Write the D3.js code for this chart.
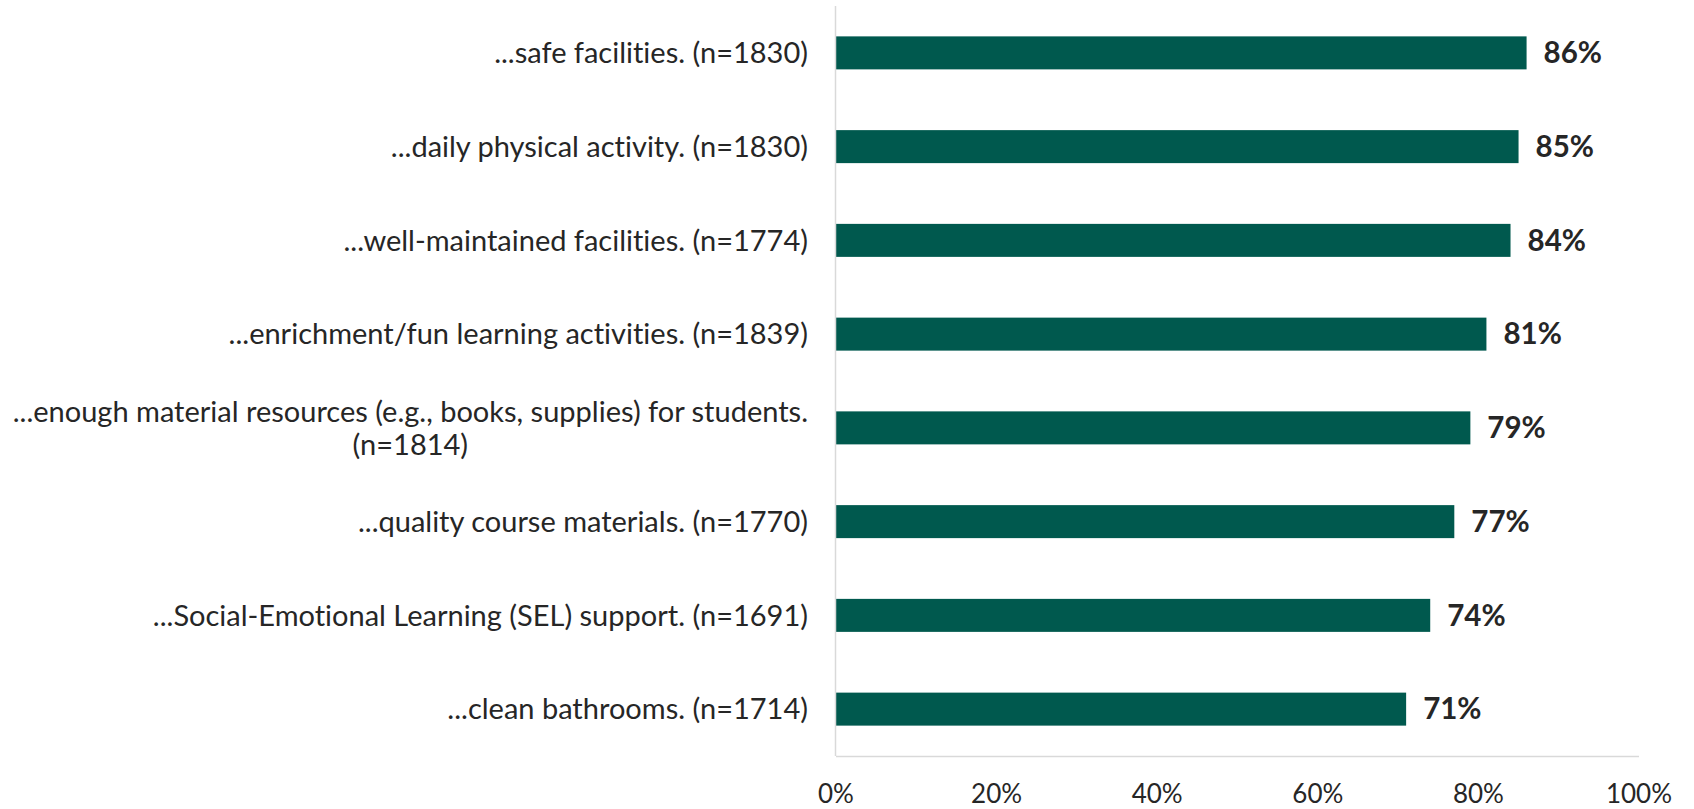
<!DOCTYPE html>
<html>
<head>
<meta charset="utf-8">
<script src="https://cdn.jsdelivr.net/npm/d3@7"></script>
<style>
  body { margin: 0; background: #fff; }
  svg { display: block; }
  text { font-variant-ligatures: none; font-feature-settings: "liga" 0, "dlig" 0; }
</style>
</head>
<body>
<svg width="1694" height="809"></svg>
<script>
// chart data
const categories = [
  "...safe facilities. (n=1830)",
  "...daily physical activity. (n=1830)",
  "...well-maintained facilities. (n=1774)",
  "...enrichment/fun learning activities. (n=1839)",
  "...enough material resources (e.g., books, supplies) for students.|(n=1814)",
  "...quality course materials. (n=1770)",
  "...Social-Emotional Learning (SEL) support. (n=1691)",
  "...clean bathrooms. (n=1714)"
];
const values = [86, 85, 84, 81, 79, 77, 74, 71];
const tickValues = [0, 20, 40, 60, 80, 100];

const svg = d3.select("svg");
const font = "Lato, 'Open Sans', sans-serif";

// plot area
const plotLeft = 836, plotRight = 1639, plotTop = 6, plotBottom = 756;

const x = d3.scaleLinear().domain([0, 100]).range([plotLeft, plotRight]);
const y = d3.scaleBand().domain(categories).range([plotTop, plotBottom]).paddingInner(0.648).paddingOuter(0.324);

// baseline along the bottom
svg.append("line")
  .attr("x1", plotLeft).attr("x2", plotRight)
  .attr("y1", plotBottom + 0.5).attr("y2", plotBottom + 0.5)
  .attr("stroke", "#d9d9d9").attr("stroke-width", 1.5);

// bars
svg.selectAll(".bar")
  .data(values)
  .join("rect")
  .attr("class", "bar")
  .attr("x", plotLeft)
  .attr("y", (d, i) => y(categories[i]))
  .attr("width", d => x(d) - plotLeft)
  .attr("height", y.bandwidth())
  .attr("fill", "#00594e");

// vertical axis line
svg.append("line")
  .attr("x1", plotLeft - 0.5).attr("x2", plotLeft - 0.5)
  .attr("y1", plotTop).attr("y2", plotBottom)
  .attr("stroke", "#d9d9d9").attr("stroke-width", 1.5);

// value labels
svg.selectAll(".val")
  .data(values)
  .join("text")
  .attr("class", "val")
  .attr("x", d => x(d) + 17)
  .attr("y", (d, i) => y(categories[i]) + y.bandwidth() / 2)
  .attr("dy", "0.35em")
  .attr("font-family", font)
  .attr("font-size", 29.5)
  .attr("font-weight", 700)
  .attr("fill", "#262626")
  .text(d => d + "%");

// category labels, multi-line ones centred on their longest line
const labelRight = 808;
categories.forEach((c, i) => {
  const lines = c.split("|");
  const cy = y(c) + y.bandwidth() / 2;
  const g = svg.append("g");
  const texts = lines.map((ln, j) => g.append("text")
    .attr("y", cy + (j - (lines.length - 1) / 2) * 33)
    .attr("dy", "0.35em")
    .attr("font-family", font)
    .attr("font-size", 29)
    .attr("fill", "#262626")
    .text(ln));
  if (lines.length === 1) {
    texts[0].attr("x", labelRight).attr("text-anchor", "end");
  } else {
    const w = d3.max(texts, t => t.node().getComputedTextLength());
    texts.forEach(t => t.attr("x", labelRight - w / 2).attr("text-anchor", "middle"));
  }
});

// x axis tick labels
svg.selectAll(".tick-label")
  .data(tickValues)
  .join("text")
  .attr("class", "tick-label")
  .attr("x", d => x(d))
  .attr("y", 794)
  .attr("dy", "0.35em")
  .attr("text-anchor", "middle")
  .attr("font-family", font)
  .attr("font-size", 26)
  .attr("fill", "#262626")
  .text(d => d + "%");
</script>
</body>
</html>
